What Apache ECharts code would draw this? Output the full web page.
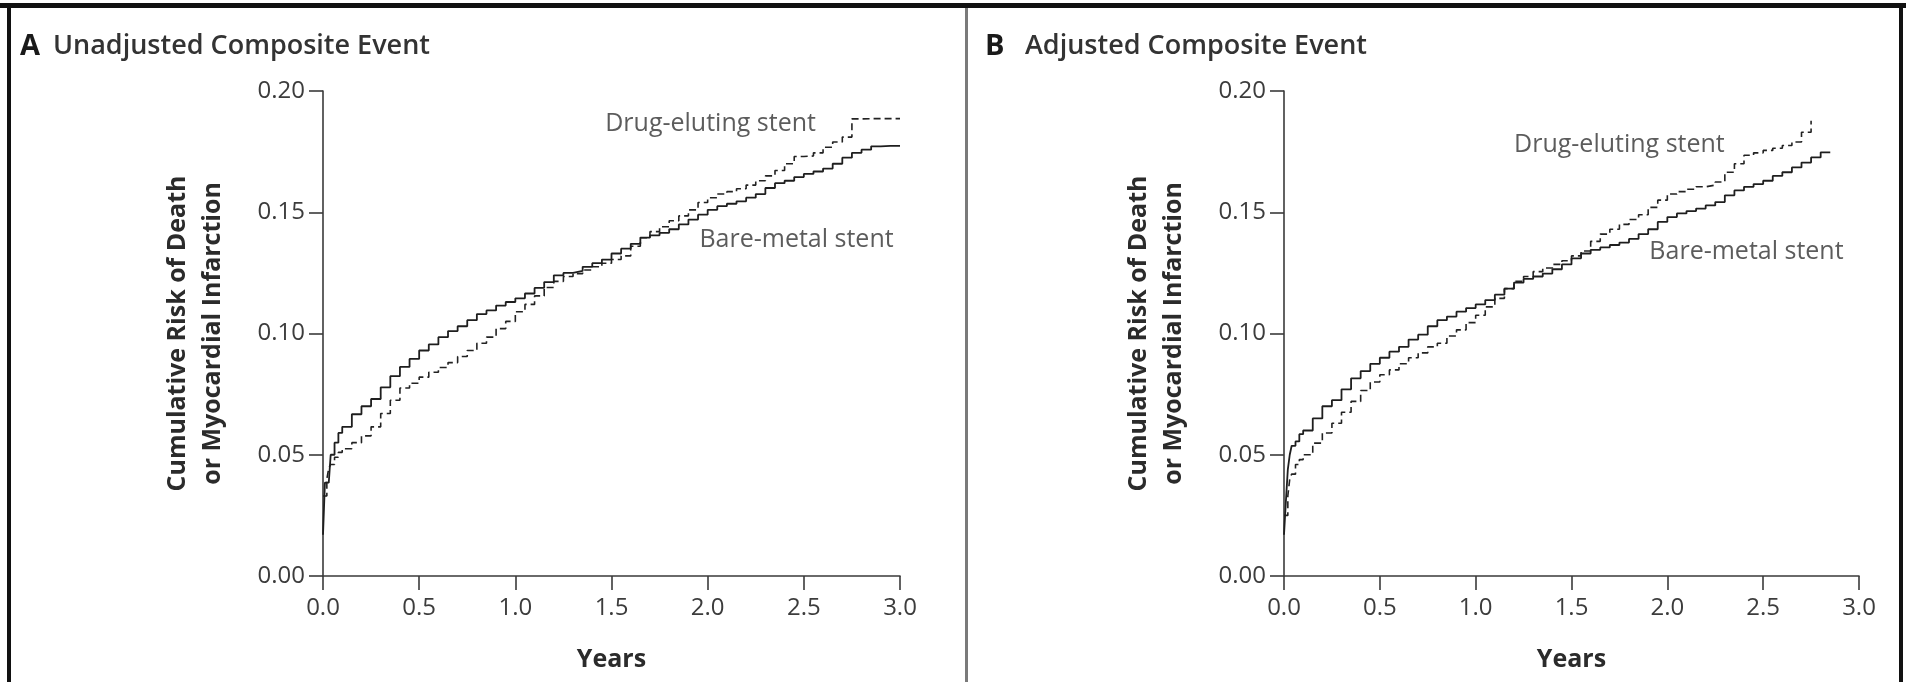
<!DOCTYPE html>
<html>
<head>
<meta charset="utf-8">
<title>Composite Event — Drug-eluting vs Bare-metal Stent</title>
<script src="https://cdn.jsdelivr.net/npm/echarts@6/dist/echarts.min.js"></script>
<style>
  html, body { margin: 0; padding: 0; background: #fff; }
  #chart { width: 1906px; height: 682px; }
</style>
</head>
<body>
<div id="chart"></div>
<script>
// Follow-up times (years) at which the cumulative risk is tabulated
const years = [0, 0.01, 0.02, 0.03, 0.04, 0.06, 0.08, 0.10,
  0.15, 0.20, 0.25, 0.30, 0.35, 0.40, 0.45, 0.50, 0.55, 0.60, 0.65, 0.70,
  0.75, 0.80, 0.85, 0.90, 0.95, 1.00, 1.05, 1.10, 1.15, 1.20, 1.25, 1.30,
  1.35, 1.40, 1.45, 1.50, 1.55, 1.60, 1.65, 1.70, 1.75, 1.80, 1.85, 1.90,
  1.95, 2.00, 2.05, 2.10, 2.15, 2.20, 2.25, 2.30, 2.35, 2.40, 2.45, 2.50,
  2.55, 2.60, 2.65, 2.70, 2.75, 2.80, 2.85, 2.90, 2.95, 3.00];

// Panel A: unadjusted cumulative risk of death or MI
const unadjBareMetal = [0.017, 0.0385, 0.0385, 0.0385, 0.050, 0.055, 0.059, 0.0615,
  0.0667, 0.0700, 0.0730, 0.0778, 0.0824, 0.0862, 0.0895, 0.0930, 0.0955, 0.0985, 0.1010, 0.1030,
  0.1055, 0.1080, 0.1095, 0.1115, 0.1130, 0.1145, 0.1165, 0.1188, 0.1212, 0.1240, 0.1250, 0.1258,
  0.1275, 0.1290, 0.1305, 0.1330, 0.1350, 0.1370, 0.1395, 0.1405, 0.1415, 0.1430, 0.1450, 0.1470,
  0.1490, 0.1510, 0.1525, 0.1535, 0.1545, 0.1560, 0.1575, 0.1600, 0.1620, 0.1630, 0.1645, 0.1658,
  0.1668, 0.1680, 0.1700, 0.1725, 0.1745, 0.1758, 0.1772, 0.1774, 0.1774, 0.1774];
const unadjDrugEluting = [0.033, 0.033, 0.040, 0.0445, 0.046, 0.049, 0.051, 0.0525,
  0.0550, 0.0578, 0.0615, 0.0670, 0.0725, 0.0775, 0.0795, 0.0820, 0.0840, 0.0860, 0.0880, 0.0905,
  0.0930, 0.0960, 0.0985, 0.1020, 0.1050, 0.1090, 0.1120, 0.1155, 0.1190, 0.1215, 0.1235, 0.1247,
  0.1262, 0.1275, 0.1290, 0.1305, 0.1320, 0.1360, 0.1395, 0.1420, 0.1440, 0.1465, 0.1485, 0.1510,
  0.1540, 0.1560, 0.1575, 0.1585, 0.1597, 0.1612, 0.1630, 0.1650, 0.1672, 0.1700, 0.1730, 0.1732,
  0.1745, 0.1768, 0.1790, 0.1810, 0.1885, 0.1886, 0.1886, 0.1886, 0.1886, 0.1886];

// Panel B: adjusted cumulative risk of death or MI (curves end at last follow-up)
const adjBareMetal = [0.017, 0.031, 0.044, 0.050, 0.0537, 0.0555, 0.0585, 0.0600,
  0.0650, 0.0700, 0.0725, 0.0770, 0.0815, 0.0845, 0.0875, 0.0900, 0.0925, 0.0945, 0.0975, 0.0995,
  0.1030, 0.1055, 0.1070, 0.1090, 0.1105, 0.1120, 0.1138, 0.1160, 0.1185, 0.1210, 0.1225, 0.1235,
  0.1247, 0.1265, 0.1285, 0.1310, 0.1330, 0.1345, 0.1355, 0.1365, 0.1375, 0.1390, 0.1410, 0.1430,
  0.1460, 0.1480, 0.1495, 0.1505, 0.1515, 0.1528, 0.1542, 0.1570, 0.1590, 0.1605, 0.1616, 0.1630,
  0.1650, 0.1665, 0.1685, 0.1705, 0.1726, 0.1747, 0.1747];
const adjDrugEluting = [0.025, 0.025, 0.033, 0.040, 0.042, 0.046, 0.048, 0.050,
  0.0548, 0.0590, 0.0630, 0.0675, 0.0720, 0.0765, 0.0800, 0.0830, 0.0850, 0.0875, 0.0900, 0.0920,
  0.0945, 0.0960, 0.0990, 0.1015, 0.1045, 0.1075, 0.1110, 0.1145, 0.1185, 0.1215, 0.1235, 0.1255,
  0.1270, 0.1285, 0.1300, 0.1320, 0.1340, 0.1380, 0.1410, 0.1430, 0.1450, 0.1470, 0.1490, 0.1520,
  0.1550, 0.1575, 0.1585, 0.1595, 0.1605, 0.1612, 0.1625, 0.1665, 0.1700, 0.1735, 0.1745, 0.1755,
  0.1764, 0.1775, 0.1790, 0.1830, 0.1877];

// Curve labels, anchored in data coordinates [years, risk]
const curveLabels = {
  A: [['Drug-eluting stent', 2.015, 0.1864], ['Bare-metal stent', 2.462, 0.1386]],
  B: [['Drug-eluting stent', 1.75, 0.1777], ['Bare-metal stent', 2.413, 0.1336]]
};

const panelTitles = [['A', 'Unadjusted Composite Event'], ['B', 'Adjusted Composite Event']];
const yAxisTitle = 'Cumulative Risk of Death\nor Myocardial Infarction';
const xAxisTitle = 'Years';

const FONT = '"Open Sans", "Noto Sans", sans-serif';
const INK = '#2b2b2b';
const AXIS = '#3a3a3a';

const pairs = vals => vals.map((v, i) => [years[i], v]);

const grids = [
  { left: 323, top: 91, width: 577, height: 485 },
  { left: 1284, top: 91, width: 575, height: 485 }
];

function xAxisFor(i) {
  return {
    type: 'value', gridIndex: i, min: 0, max: 3, interval: 0.5,
    name: xAxisTitle, nameLocation: 'middle', nameGap: 71,
    nameTextStyle: { fontFamily: FONT, fontSize: 25, fontWeight: 'bold', color: INK },
    axisLine: { show: true, lineStyle: { color: AXIS, width: 1.6 } },
    axisTick: { show: true, inside: false, length: 14, lineStyle: { color: AXIS, width: 1.6 } },
    axisLabel: { margin: 20, fontFamily: FONT, fontSize: 24, color: '#3c3c3c',
      formatter: v => v.toFixed(1) },
    splitLine: { show: false }
  };
}
function yAxisFor(i) {
  return {
    type: 'value', gridIndex: i, min: 0, max: 0.2, interval: 0.05,
    name: yAxisTitle, nameLocation: 'middle', nameGap: 93, nameRotate: 90,
    nameTextStyle: { fontFamily: FONT, fontSize: 25, fontWeight: 'bold', color: INK, lineHeight: 35 },
    axisLine: { show: true, lineStyle: { color: AXIS, width: 1.6 } },
    axisTick: { show: true, inside: false, length: 14, lineStyle: { color: AXIS, width: 1.6 } },
    axisLabel: { margin: 18, fontFamily: FONT, fontSize: 24, color: '#3c3c3c',
      formatter: v => v.toFixed(2) },
    splitLine: { show: false }
  };
}

function curve(vals, gi, dashed) {
  return {
    type: 'line', xAxisIndex: gi, yAxisIndex: gi, step: 'end',
    showSymbol: false, silent: true,
    data: pairs(vals),
    lineStyle: dashed
      ? { color: '#222', width: 1.6, type: [7, 4] }
      : { color: '#1e1e1e', width: 1.8, type: 'solid' }
  };
}
function labelSeries(list, gi) {
  return {
    type: 'scatter', xAxisIndex: gi, yAxisIndex: gi, silent: true,
    symbolSize: 1, itemStyle: { color: 'rgba(0,0,0,0)' },
    data: list.map(([text, x, y]) => ({ value: [x, y], name: text })),
    label: { show: true, position: 'inside', formatter: p => p.name,
      fontFamily: FONT, fontSize: 25, color: '#333' }
  };
}

const titleFor = (letter, text, letterLeft, textLeft) => ([
  { text: letter, left: letterLeft, top: 32, padding: 0,
    textStyle: { fontFamily: FONT, fontSize: 29, fontWeight: 'bold', color: '#1a1a1a' } },
  { text: text, left: textLeft, top: 33, padding: 0,
    textStyle: { fontFamily: FONT, fontSize: 27, fontWeight: 600, color: '#333' } }
]);

const chart = echarts.init(document.getElementById('chart'), null, { renderer: 'canvas' });
chart.setOption({
  animation: false,
  backgroundColor: '#fff',
  title: [
    ...titleFor(panelTitles[0][0], panelTitles[0][1], 20, 53),
    ...titleFor(panelTitles[1][0], panelTitles[1][1], 985, 1025)
  ],
  grid: grids,
  xAxis: [xAxisFor(0), xAxisFor(1)],
  yAxis: [yAxisFor(0), yAxisFor(1)],
  series: [
    curve(unadjDrugEluting, 0, true),
    curve(unadjBareMetal, 0, false),
    curve(adjDrugEluting, 1, true),
    curve(adjBareMetal, 1, false),
    labelSeries(curveLabels.A, 0),
    labelSeries(curveLabels.B, 1)
  ],
  // figure frame: heavy rule on top, side rules and the panel divider
  graphic: [
    { type: 'rect', silent: true, shape: { x: 0, y: 3, width: 1906, height: 5 }, style: { fill: '#111' } },
    { type: 'rect', silent: true, shape: { x: 7, y: 3, width: 4, height: 679 }, style: { fill: '#111' } },
    { type: 'rect', silent: true, shape: { x: 1899, y: 3, width: 4, height: 679 }, style: { fill: '#111' } },
    { type: 'rect', silent: true, shape: { x: 965, y: 8, width: 3, height: 674 }, style: { fill: '#7a7a7a' } }
  ]
});
</script>
</body>
</html>
